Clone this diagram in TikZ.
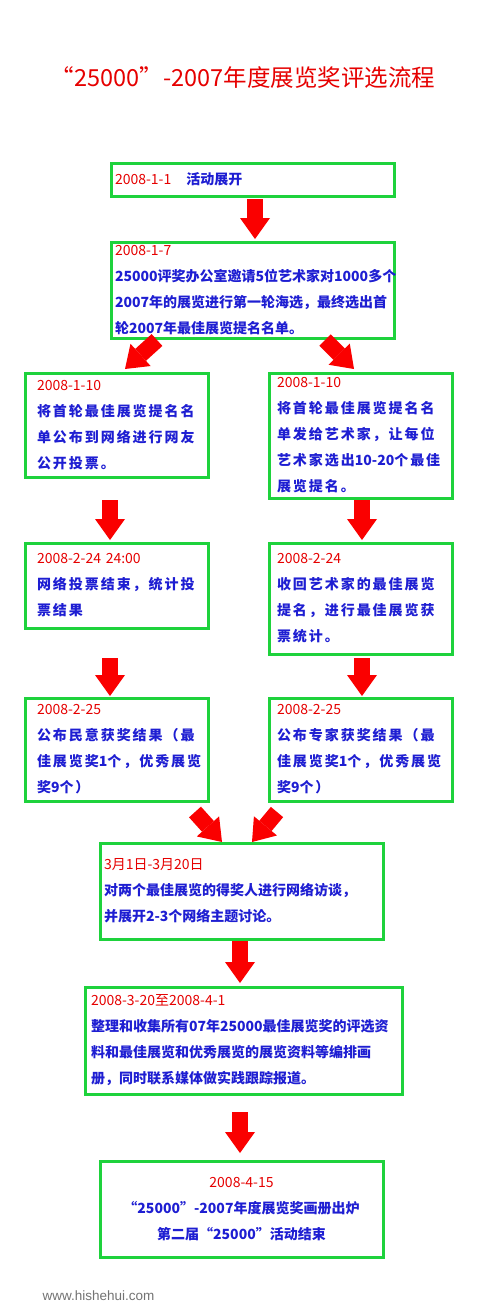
\documentclass[tikz,border=0pt]{standalone}
\usepackage{fontspec}
\usepackage{tikz}
\usetikzlibrary{arrows.meta, calc}

\newfontfamily\cjk{Noto Sans CJK SC}
\newfontfamily\cjkwide{Noto Sans CJK SC}[LetterSpace=14]
\newfontfamily\sitefont{Liberation Sans}

\definecolor{datered}{RGB}{230,0,0}
\definecolor{textblue}{RGB}{30,30,210}
\definecolor{boxgreen}{RGB}{30,210,60}
\definecolor{arrowred}{RGB}{250,0,0}

\exhyphenpenalty=10000
\hyphenpenalty=10000
\newcommand{\datestamp}[1]{{\cjk\mdseries\color{datered}#1}}
\newcommand{\numtight}[1]{{\cjk #1}}

\begin{document}
\begin{tikzpicture}[
    x=1pt, y=-1pt,
    stagebox/.style={draw=boxgreen, line width=3pt, fill=white, anchor=north west, align=left, inner ysep=2pt, outer sep=0pt, text=textblue, font=\cjk\bfseries\fontsize{14}{26}\selectfont},
    sidebox/.style={stagebox, font=\cjkwide\bfseries\fontsize{14}{26}\selectfont},
    fatarrow/.style={draw=arrowred, line width=16pt, -{Triangle[width=30pt, length=21pt, line width=0pt]}}
]

% Page frame
\fill[white] (0,0) rectangle (500,1304);
\useasboundingbox (0,0) rectangle (500,1304);

% Title
\node[font=\cjk\fontsize{23.5}{28}\selectfont, text=datered] (title) at (243,78) {“25000”-2007年度展览奖评选流程};

% ================= Stage Boxes =================

% Start and first selection
\node[stagebox, inner xsep=4pt, text width=275pt, minimum height=33pt] (b1) at (111,163) {\datestamp{2008-1-1}\hspace{15pt}活动展开};
\node[stagebox, inner xsep=4pt, text width=275pt, minimum height=96pt] (b2) at (111,242) {\datestamp{2008-1-7}\\25000评奖办公室邀请5位艺术家对1000多个\\2007年的展览进行第一轮海选，最终选出首\\轮2007年最佳展览提名名单。};

% Public vote branch (left column)
\node[sidebox, inner xsep=12pt, text width=159pt, minimum height=104pt] (b3L) at (25,373) {\datestamp{2008-1-10}\\将首轮最佳展览提名名\\单公布到网络进行网友\\公开投票。};
\node[sidebox, inner xsep=12pt, text width=159pt, minimum height=85pt] (b4L) at (25,543) {\datestamp{2008-2-24 24:00}\\网络投票结束，统计投\\票结果};
\node[sidebox, inner xsep=12pt, text width=159pt, minimum height=103pt] (b5L) at (25,698) {\datestamp{2008-2-25}\\公布民意获奖结果（最\\佳展览奖\numtight{1}个，优秀展览\\奖\numtight{9}个）};

% Expert branch (right column)
\node[sidebox, inner xsep=8pt, text width=167pt, minimum height=125pt] (b3R) at (269,373) {\datestamp{2008-1-10}\\将首轮最佳展览提名名\\单发给艺术家，让每位\\\mbox{艺术家选出\numtight{10-20}个最佳}\\展览提名。};
\node[sidebox, inner xsep=8pt, text width=167pt, minimum height=111pt] (b4R) at (269,543) {\datestamp{2008-2-24}\\收回艺术家的最佳展览\\提名，进行最佳展览获\\票统计。};
\node[sidebox, inner xsep=8pt, text width=167pt, minimum height=103pt] (b5R) at (269,698) {\datestamp{2008-2-25}\\公布专家获奖结果（最\\佳展览奖\numtight{1}个，优秀展览\\奖\numtight{9}个）};

% Interviews, album and close
\node[stagebox, inner xsep=4pt, text width=275pt, minimum height=96pt] (b6) at (100,843) {\datestamp{3月1日-3月20日}\\对两个最佳展览的得奖人进行网络访谈，\\并展开2-3个网络主题讨论。};
\node[stagebox, inner xsep=6pt, text width=305pt, minimum height=107pt] (b7) at (85,987) {\datestamp{2008-3-20至2008-4-1}\\整理和收集所有07年25000最佳展览奖的评选资\\料和最佳展览和优秀展览的展览资料等编排画\\册，同时联系媒体做实践跟踪报道。};
\node[stagebox, align=center, inner xsep=4pt, text width=275pt, minimum height=96pt] (b8) at (100,1161) {\datestamp{2008-4-15}\\“25000”-2007年度展览奖画册出炉\\第二届“25000”活动结束};

% Watermark
\node[font=\sitefont\fontsize{13.5}{13.5}\selectfont, text=black!55, anchor=west] (site) at (39,1296) {www.hishehui.com};

% ================= Red Block Arrows =================
\coordinate (t2L) at ($(b2.south west)+(46,2)$);
\coordinate (h3L) at ($(b3L.north west)+(100,-4)$);
\coordinate (t2R) at ($(b2.south east)+(-69,2)$);
\coordinate (h3R) at ($(b3R.north west)+(85,-4)$);
\coordinate (t5L) at ($(b5L.south east)+(-13,11)$);
\coordinate (h6L) at ($(b6.north west)+(122,-1)$);
\coordinate (t5R) at ($(b5R.south west)+(8,11)$);
\coordinate (h6R) at ($(b6.north west)+(152,-1)$);

\draw[fatarrow, shorten <=3pt, shorten >=3pt] ([xshift=2.5pt]b1.south) -- ([xshift=2.5pt]b2.north);
\draw[fatarrow] (t2L) -- (h3L);
\draw[fatarrow] (t2R) -- (h3R);
\draw[fatarrow, shorten <=23pt, shorten >=3pt] ([xshift=-6.5pt]b3L.south) -- ([xshift=-6.5pt]b4L.north);
\draw[fatarrow, shorten <=2pt, shorten >=3pt] ([xshift=1.5pt]b3R.south) -- ([xshift=1.5pt]b4R.north);
\draw[fatarrow, shorten <=30pt, shorten >=2pt] ([xshift=-6.5pt]b4L.south) -- ([xshift=-6.5pt]b5L.north);
\draw[fatarrow, shorten <=4pt, shorten >=2pt] ([xshift=1.5pt]b4R.south) -- ([xshift=1.5pt]b5R.north);
\draw[fatarrow] (t5L) -- (h6L);
\draw[fatarrow] (t5R) -- (h6R);
\draw[fatarrow, shorten <=2pt, shorten >=4pt] ($(b6.south)+(-1.5,0)$) -- ($(b6.south |- b7.north)+(-1.5,0)$);
\draw[fatarrow, shorten <=18pt, shorten >=8pt] ($(b7.south)+(-3.5,0)$) -- ($(b7.south |- b8.north)+(-3.5,0)$);

\end{tikzpicture}
\end{document}
